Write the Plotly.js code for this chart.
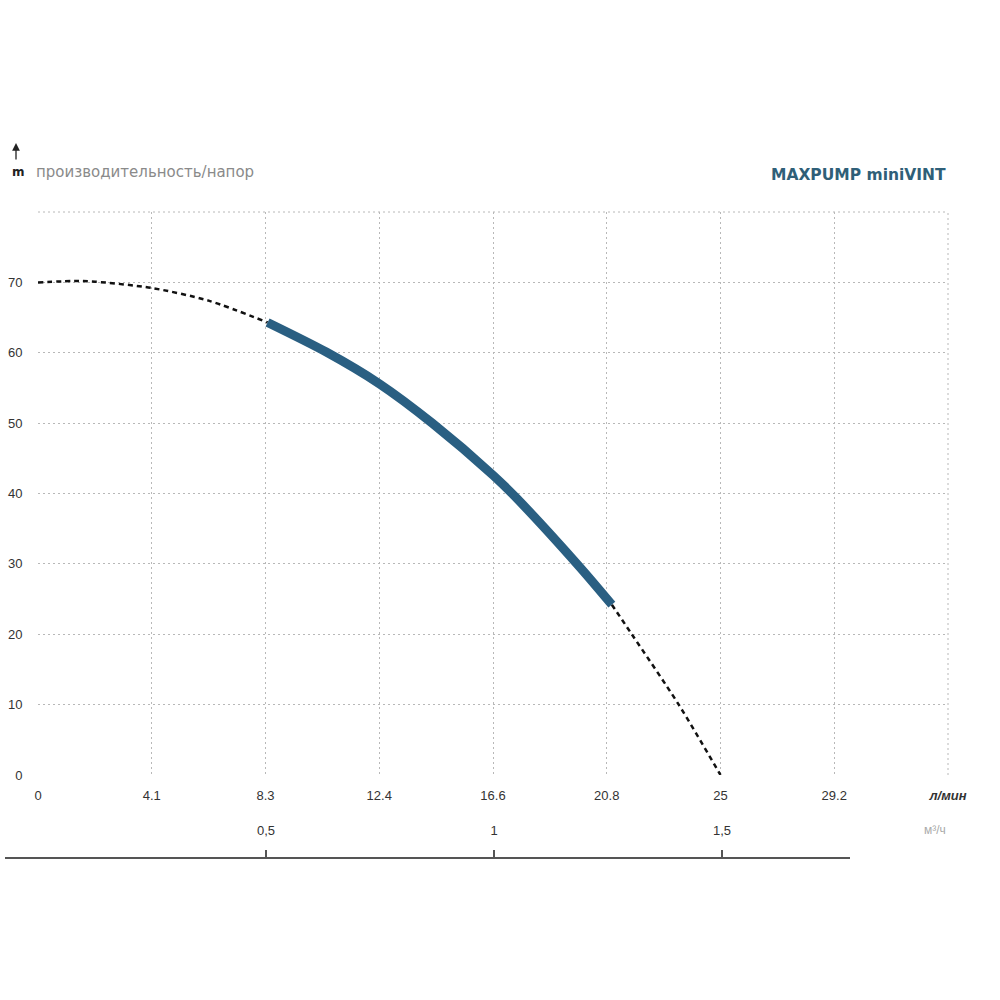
<!DOCTYPE html>
<html>
<head>
<meta charset="utf-8">
<script src="https://cdn.plot.ly/plotly-3.0.1.min.js"></script>
<style>html,body{margin:0;padding:0;background:#fff;}</style>
</head>
<body>
<div id="chart" style="width:1000px;height:1000px;"></div>
<script>
// Flow in l/min, head in m
const dashLeftQ = [0, 1.5, 2.1, 4.17, 6.25, 8.41];
const dashLeftH = [70, 70.2, 70.1, 69.2, 67.4, 64.3];
const solidQ = [8.41, 10.56, 12.5, 14.44, 16.67, 17.54, 19.81, 21.02];
const solidH = [64.3, 60.1, 55.6, 50, 42.6, 39.3, 29.7, 24.2];
const dashRightQ = [21.02, 21.75, 23.47, 25];
const dashRightH = [24.2, 20, 10, 0];

const xTickVals = [0, 25/6, 50/6, 75/6, 100/6, 125/6, 25, 175/6, 200/6];
const xTickText = ['0', '4.1', '8.3', '12.4', '16.6', '20.8', '25', '29.2', '<b><i>л/мин</i></b>'];
const yTickVals = [0, 10, 20, 30, 40, 50, 60, 70, 80];
const yTickText = ['0', '10', '20', '30', '40', '50', '60', '70', ''];
const m3TickVals = [0.5, 1, 1.5];
const m3TickText = ['0,5', '1', '1,5'];

const gridStyle = {showgrid: true, gridcolor: '#b8b8b8', griddash: '2px,3px', gridwidth: 1, zeroline: false};

const traces = [
  {x: dashLeftQ, y: dashLeftH, mode: 'lines', line: {color: '#111', width: 2.5, dash: '5px,4px', shape: 'spline', smoothing: 0.8}, hoverinfo: 'skip'},
  {x: dashRightQ, y: dashRightH, mode: 'lines', line: {color: '#111', width: 2.5, dash: '5px,4px', shape: 'spline', smoothing: 0.8}, hoverinfo: 'skip'},
  {x: solidQ, y: solidH, mode: 'lines', line: {color: '#2a5f82', width: 9, shape: 'spline', smoothing: 0.8}, hoverinfo: 'skip'},
  {x: [1], y: [0], xaxis: 'x2', yaxis: 'y2', mode: 'markers', marker: {opacity: 0}, hoverinfo: 'skip'}
];

const layout = {
  width: 1000, height: 1000,
  margin: {l: 5, r: 52, t: 212, b: 140},
  paper_bgcolor: '#fff', plot_bgcolor: 'rgba(0,0,0,0)',
  showlegend: false,
  font: {family: 'Liberation Sans, Arial, sans-serif', size: 13, color: '#333'},
  xaxis: Object.assign({
    domain: [33/943, 1], range: [0, 200/6], anchor: 'y',
    tickmode: 'array', tickvals: xTickVals, ticktext: xTickText,
    ticks: 'outside', ticklen: 8, tickcolor: 'rgba(0,0,0,0)',
    showline: false, tickfont: {size: 13, color: '#333'}
  }, gridStyle),
  yaxis: Object.assign({
    domain: [85/648, 1], range: [0, 80], anchor: 'x',
    tickmode: 'array', tickvals: yTickVals, ticktext: yTickText,
    ticks: 'outside', ticklen: 12, tickcolor: 'rgba(0,0,0,0)',
    showline: false, tickfont: {size: 13, color: '#333'}
  }, gridStyle),
  xaxis2: {
    domain: [0, 845/943], range: [-33/456, 812/456],
    anchor: 'free', position: 3/648, side: 'top',
    tickmode: 'array', tickvals: m3TickVals, ticktext: m3TickText,
    ticks: 'outside', ticklen: 7, tickwidth: 1.5, tickcolor: '#555',
    ticklabelstandoff: 10,
    showline: true, linecolor: '#555', linewidth: 1.5,
    showgrid: false, zeroline: false,
    tickfont: {size: 13, color: '#333'}
  },
  yaxis2: {
    domain: [0, 3/648], range: [0, 1], anchor: 'x2', visible: false
  },
  annotations: [
    {xref: 'paper', yref: 'paper', x: 0.0053, y: 40/648 + 1, text: '<b>m</b>', showarrow: false,
     font: {family: 'DejaVu Sans, sans-serif', size: 12, color: '#222'}, xanchor: 'left', yanchor: 'middle'},
    {xref: 'paper', yref: 'paper', x: 11/943, y: 69/648 + 1, ax: 0, ay: 18, text: '', showarrow: true,
     arrowhead: 2, arrowsize: 1.2, arrowwidth: 1.3, arrowcolor: '#222'},
    {xref: 'paper', yref: 'paper', x: 29/943, y: 40/648 + 1, text: 'производительность/напор', showarrow: false,
     font: {family: 'DejaVu Sans, sans-serif', size: 15, color: '#8a8a8a'}, xanchor: 'left', yanchor: 'middle'},
    {xref: 'paper', yref: 'paper', x: 1.0, y: 37/648 + 1, text: '<b>MAXPUMP miniVINT</b>', showarrow: false,
     font: {family: 'DejaVu Sans, sans-serif', size: 15.5, color: '#2f5f78'}, xanchor: 'right', yanchor: 'middle'},
    {xref: 'paper', yref: 'paper', x: 1.0, y: 30/648, text: 'м³/ч', showarrow: false,
     font: {family: 'Liberation Sans, sans-serif', size: 12, color: '#aaa'}, xanchor: 'right', yanchor: 'middle'}
  ],
  shapes: [
    {type: 'line', xref: 'paper', yref: 'paper', x0: 1, x1: 1, y0: 85/648, y1: 1,
     line: {color: '#b8b8b8', width: 1, dash: '2px,3px'}},
    {type: 'line', xref: 'paper', yref: 'paper', x0: 33/943, x1: 1, y0: 1, y1: 1,
     line: {color: '#b8b8b8', width: 1, dash: '2px,3px'}}
  ]
};

Plotly.newPlot('chart', traces, layout, {staticPlot: true, displayModeBar: false});
</script>
</body>
</html>
